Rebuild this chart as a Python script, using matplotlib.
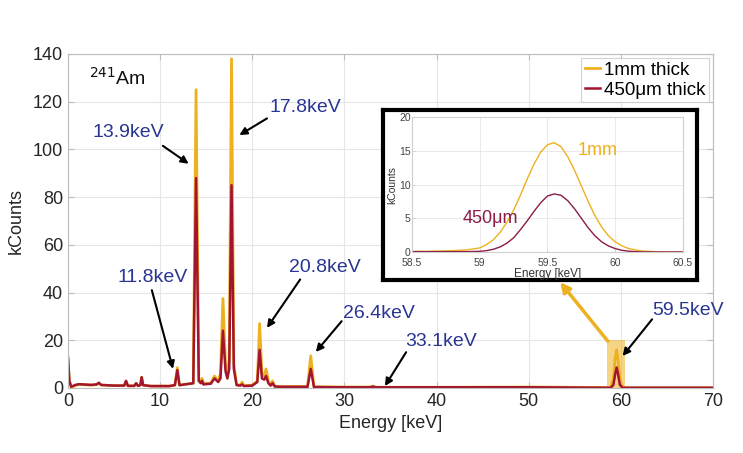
import matplotlib.pyplot as plt
from matplotlib.patches import Rectangle

plt.rcParams['font.family'] = ['Liberation Sans', 'DejaVu Sans']

# main spectrum
energy_kev = [0.0, 0.15, 0.35, 0.8, 1.2, 2.5, 3.1, 3.35, 3.6, 5.0, 6.1, 6.3, 6.5, 7.2, 7.4, 7.6,
              7.85, 8.0, 8.15, 9.0, 11.0, 11.6, 11.87, 12.1, 13.6, 13.9, 14.2, 14.4, 14.55, 14.7,
              15.5, 15.9, 16.3, 16.55, 16.82, 17.1, 17.3, 17.5, 17.75, 18.0, 18.3, 18.7, 18.9,
              19.1, 20.0, 20.55, 20.8, 21.05, 21.3, 21.5, 21.75, 22.0, 22.2, 22.45, 23.0, 26.0,
              26.35, 26.7, 30.0, 32.8, 33.1, 33.4, 40.0, 50.0, 58.9, 59.2, 59.4, 59.55, 59.7,
              59.9, 60.2, 70.0]
counts_1mm = [12, 3, 0.3, 1.0, 1.5, 1.2, 1.4, 2.0, 1.2, 1.0, 1.0, 2.8, 0.9, 0.9, 1.8, 0.9,
              1.2, 4.5, 1.2, 0.8, 0.8, 1.2, 8.5, 1.2, 2.0, 125, 3, 2.5, 4, 2,
              2, 5, 3, 6, 37.5, 10, 6, 12, 138, 10, 1.5, 1.2, 2.5,
              1.0, 1.2, 3, 27, 6, 5, 8, 3, 1.2, 3, 0.8, 0.6, 0.6,
              13.5, 0.5, 0.4, 0.4, 0.8, 0.3, 0.3, 0.4, 0.2, 4, 13, 16, 12,
              3.7, 0.1, 0.1]
counts_450um = [13, 3, 0.5, 1.3, 1.6, 1.3, 1.5, 2.2, 1.3, 1.0, 1.0, 3.0, 0.9, 0.9, 2.0, 0.9,
                1.2, 4.5, 1.2, 0.8, 0.8, 1.2, 7.5, 1.2, 2.0, 88, 3, 2, 3, 1.5,
                1.8, 4, 2.5, 4, 24, 7, 4, 8, 85, 8, 1.2, 1.0, 1.5,
                0.8, 1.0, 2.5, 16, 4, 3.5, 5, 2, 1.0, 2, 0.6, 0.5, 0.5,
                8, 0.4, 0.3, 0.3, 0.6, 0.3, 0.3, 0.3, 0.1, 1.3, 6, 8.6, 6,
                1.3, 0.1, 0.1]

# zoom on the 59.5 keV line
zoom_kev = [58.5, 58.6, 58.7, 58.8, 58.9, 59.0, 59.05, 59.1, 59.15, 59.2, 59.25, 59.3, 59.35,
            59.4, 59.45, 59.5, 59.55, 59.6, 59.65, 59.7, 59.75, 59.8, 59.85, 59.9, 59.95,
            60.0, 60.05, 60.1, 60.15, 60.2, 60.3, 60.4, 60.5]
zoom_1mm = [0.1, 0.1, 0.15, 0.2, 0.3, 0.6, 1.1, 1.8, 2.9, 4.4, 6.2, 8.4, 10.8,
            13.0, 14.8, 15.9, 16.2, 15.6, 14.1, 12.1, 9.8, 7.5, 5.4, 3.7, 2.4,
            1.5, 0.9, 0.5, 0.3, 0.15, 0.05, 0.0, 0.0]
zoom_450um = [0.05, 0.05, 0.05, 0.05, 0.05, 0.1, 0.2, 0.4, 0.75, 1.3, 2.1, 3.3, 4.6,
              6.0, 7.3, 8.3, 8.6, 8.4, 7.6, 6.4, 5.0, 3.6, 2.4, 1.5, 0.9,
              0.5, 0.25, 0.12, 0.05, 0.02, 0.0, 0.0, 0.0]

# peak labels: text, text position, arrow tail, arrow head
peak_labels = ['13.9keV', '17.8keV', '11.8keV', '20.8keV', '26.4keV', '33.1keV', '59.5keV']
label_xy = [(6.5, 107), (25.8, 117.4), (9.2, 46.5), (27.9, 50.3), (33.7, 31.4), (40.5, 19.3), (67.3, 32.3)]
tail_xy = [(10.3, 101.5), (21.6, 113), (9.1, 41), (25.2, 45.5), (29.7, 28), (36.7, 15), (63.4, 28.8)]
head_xy = [(13.1, 94), (18.6, 106), (11.4, 8.0), (21.6, 25.2), (26.9, 15.1), (34.4, 0.8), (60.2, 13.4)]

c_1mm = '#EDB120'
c_450 = '#A2142F'
c_text = '#283593'
c_axis = '#BDBDBD'

fig = plt.figure(figsize=(7.43, 4.53), dpi=100)
ax = fig.add_axes([0.0915, 0.1435, 0.868, 0.7373])

ax.plot(energy_kev, counts_1mm, color=c_1mm, lw=2.0, label='1mm thick')
ax.plot(energy_kev, counts_450um, color=c_450, lw=1.8, label='450μm thick')
ax.set_xlim(0, 70)
ax.set_ylim(0, 140)
ax.set_xticks(range(0, 71, 10))
ax.set_yticks(range(0, 141, 20))
ax.grid(True, color='#E6E6E6', lw=0.8)
ax.set_axisbelow(True)
for s in ax.spines.values():
    s.set_color(c_axis)
ax.tick_params(direction='in', top=True, right=True, length=4, color=c_axis,
               labelsize=13, labelcolor='#262626')
ax.set_xlabel('Energy [keV]', fontsize=13, color='#262626', labelpad=4)
ax.set_ylabel('kCounts', fontsize=13, color='#262626', labelpad=6)
ax.text(2.3, 130, r'$^{241}$Am', fontsize=14, va='center', color='#111111')

# highlighted region around 59.5 keV
ax.add_patch(Rectangle((58.5, 0), 2, 20, facecolor=c_1mm, alpha=0.55, lw=0, zorder=1))

for t, p, a, b in zip(peak_labels, label_xy, tail_xy, head_xy):
    ax.text(p[0], p[1], t, fontsize=14, color=c_text, ha='center', va='center')
    ax.annotate('', xy=b, xytext=a,
                arrowprops=dict(arrowstyle='-|>', color='black', lw=1.5, mutation_scale=11,
                                shrinkA=0, shrinkB=0))

leg = ax.legend(loc='upper right', fontsize=13.5, handlelength=0.8, handletextpad=0.2,
                borderpad=0.2, labelspacing=0.15, borderaxespad=0.2, fancybox=False)
leg.get_frame().set_edgecolor('#C8C8C8')
leg.get_frame().set_linewidth(0.8)

# yellow arrow from the highlighted box to the inset
ax.annotate('', xy=(0.754, 0.377), xycoords='figure fraction',
            xytext=(58.6, 19.6), textcoords='data',
            arrowprops=dict(arrowstyle='-|>', color=c_1mm, lw=2.5, mutation_scale=14,
                            shrinkA=0, shrinkB=0))

# black framed inset
frame = fig.add_axes([0.5155, 0.3819, 0.4226, 0.3753])
frame.set_xticks([])
frame.set_yticks([])
frame.set_facecolor('white')
for s in frame.spines.values():
    s.set_color('black')
    s.set_linewidth(3)

ins = fig.add_axes([0.5545, 0.4437, 0.3647, 0.298])
ins.plot(zoom_kev, zoom_1mm, color=c_1mm, lw=1.0)
ins.plot(zoom_kev, zoom_450um, color='#8B1A4A', lw=1.0)
ins.set_xlim(58.5, 60.5)
ins.set_ylim(0, 20)
ins.set_xticks([58.5, 59, 59.5, 60, 60.5])
ins.set_xticklabels(['58.5', '59', '59.5', '60', '60.5'])
ins.set_yticks([0, 5, 10, 15, 20])
ins.grid(True, color='#E6E6E6', lw=0.6)
ins.set_axisbelow(True)
for s in ins.spines.values():
    s.set_color('#D0D0D0')
ins.tick_params(direction='in', length=2, color='#D0D0D0', labelsize=7.5,
                labelcolor='#444444')
ins.tick_params(axis='x', pad=4.5)
ins.tick_params(axis='y', pad=1)
ins.set_xlabel('Energy [keV]', fontsize=8.5, color='#333333', labelpad=0)
ins.set_ylabel('kCounts', fontsize=7.5, color='#333333', labelpad=1)
ins.text(59.87, 15.1, '1mm', fontsize=13, color=c_1mm, ha='center', va='center')
ins.text(59.08, 5.0, '450μm', fontsize=13, color='#8B1A4A', ha='center', va='center')

fig.savefig('out.png', dpi=100)
